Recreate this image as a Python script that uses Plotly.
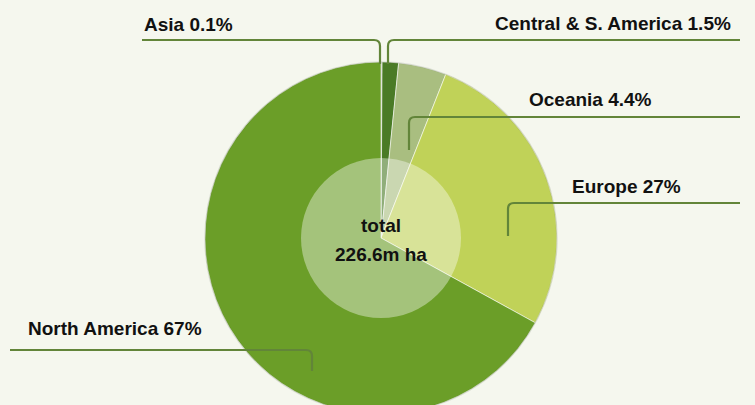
import plotly.graph_objects as go

regions = ["Asia", "Central & S. America", "Oceania", "Europe", "North America"]
shares = [0.1, 1.5, 4.4, 27, 67]
share_labels = ["0.1%", "1.5%", "4.4%", "27%", "67%"]
colors = ["#8e9a80", "#4a7b26", "#a9be80", "#c0d258", "#6b9e28"]
total_title = "total"
total_value = "226.6m ha"

W, H = 755, 420
cx, cy, r = 381, 238, 176
BG = "#f5f7ee"
FONT = "Liberation Sans, Arial, Helvetica, sans-serif"

fig = go.Figure()
fig.add_trace(go.Pie(
    labels=regions, values=shares, sort=False, direction="clockwise", rotation=0,
    marker=dict(colors=colors, line=dict(color="rgba(255,255,255,0.55)", width=1)),
    textinfo="none", hoverinfo="label+percent", showlegend=False,
    domain=dict(x=[(cx - r) / W, (cx + r) / W], y=[1 - (cy + r) / H, 1 - (cy - r) / H]),
))

# label positions (px): text left x, text centre y, leader path
label_pos = [
    (142, 24, "M142,40 L374,40 Q380,40 380,46 L380,64"),
    (493, 23, "M740,40 L394,40 Q388,40 388,46 L388,64"),
    (527, 99, "M740,117 L415,117 Q409,117 409,123 L409,150"),
    (570, 186, "M740,203 L514,203 Q508,203 508,209 L508,236"),
    (26, 328, "M10,350 L306,350 Q312,350 312,356 L312,371"),
]

shapes = [
    dict(type="circle", xref="x", yref="y", x0=cx - r, x1=cx + r, y0=cy - r, y1=cy + r,
         line=dict(color="rgba(90,100,80,0.18)", width=1.5), fillcolor="rgba(0,0,0,0)", layer="above"),
    dict(type="circle", xref="x", yref="y", x0=cx - 80, x1=cx + 80, y0=cy - 80, y1=cy + 80,
         line=dict(width=0), fillcolor="rgba(255,255,255,0.39)", layer="above"),
]
annotations = []
for reg, sl, (tx, ty, path) in zip(regions, share_labels, label_pos):
    shapes.append(dict(type="path", xref="x", yref="y", path=path,
                       line=dict(color="#628539", width=2.2), layer="above"))
    annotations.append(dict(x=tx, y=ty, xref="x", yref="y", xanchor="left", yanchor="middle",
                            text=f"<b>{reg} {sl}</b>", showarrow=False,
                            font=dict(family=FONT, size=19, color="#111111")))

annotations.append(dict(x=cx, y=225, xref="x", yref="y", text=f"<b>{total_title}</b>", showarrow=False,
                        font=dict(family=FONT, size=19, color="#111111")))
annotations.append(dict(x=cx, y=254, xref="x", yref="y", text=f"<b>{total_value}</b>", showarrow=False,
                        font=dict(family=FONT, size=19, color="#111111")))

fig.update_layout(
    width=W, height=H, margin=dict(l=0, r=0, t=0, b=0),
    paper_bgcolor=BG, plot_bgcolor=BG,
    xaxis=dict(range=[0, W], visible=False, fixedrange=True),
    yaxis=dict(range=[H, 0], visible=False, fixedrange=True),
    shapes=shapes, annotations=annotations, showlegend=False,
)

fig.write_html("out.html", config={"displayModeBar": False},
               post_script="document.body.style.margin='0';document.body.style.overflow='hidden';document.documentElement.style.overflow='hidden';")
